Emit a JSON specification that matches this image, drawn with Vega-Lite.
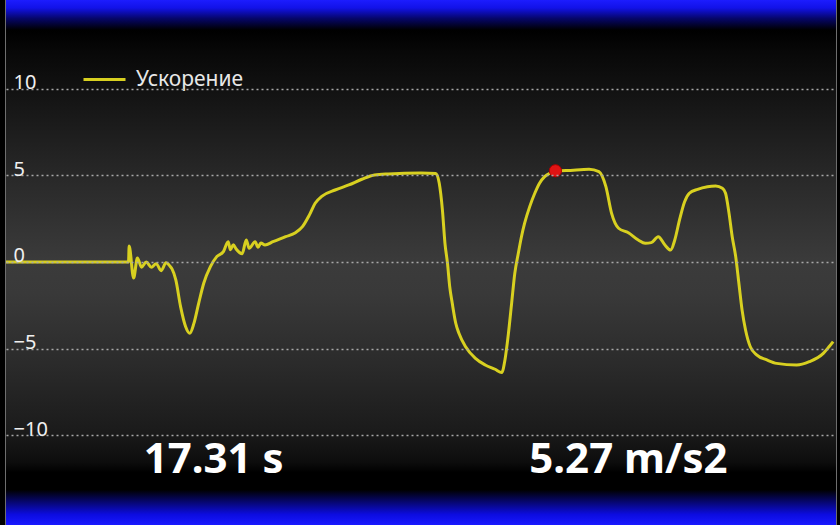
{
  "$schema": "https://vega.github.io/schema/vega-lite/v6.json",
  "width": 840,
  "height": 525,
  "autosize": {"type": "fit", "contains": "padding"},
  "padding": 0,
  "background": "#000000",
  "config": {
    "font": "Noto Sans",
    "view": {"stroke": "#6e6e6e", "strokeWidth": 2},
    "legend": {
      "orient": "none",
      "legendX": 76,
      "legendY": 57,
      "padding": 0,
      "symbolType": "stroke",
      "symbolSize": 1764,
      "symbolStrokeWidth": 3,
      "labelFontSize": 21,
      "labelColor": "#e8e8e8",
      "labelFont": "Noto Sans",
      "labelOffset": 9,
      "title": null
    }
  },
  "layer": [
    {
      "data": {"values": [{"bg": 1}]},
      "mark": {
        "type": "rect",
        "fill": {
          "gradient": "linear",
          "x1": 0, "y1": 0, "x2": 0, "y2": 1,
          "stops": [
            {"offset": 0.0, "color": "#1c1cff"},
            {"offset": 0.015, "color": "#1212e8"},
            {"offset": 0.035, "color": "#06066a"},
            {"offset": 0.057, "color": "#000000"},
            {"offset": 0.1, "color": "#080808"},
            {"offset": 0.2, "color": "#161616"},
            {"offset": 0.35, "color": "#2a2a2a"},
            {"offset": 0.5, "color": "#3b3b3b"},
            {"offset": 0.56, "color": "#393939"},
            {"offset": 0.7, "color": "#2a2a2a"},
            {"offset": 0.82, "color": "#1b1b1b"},
            {"offset": 0.88, "color": "#0d0d0d"},
            {"offset": 0.9, "color": "#000000"},
            {"offset": 0.933, "color": "#000000"},
            {"offset": 0.955, "color": "#06066a"},
            {"offset": 0.98, "color": "#0c0ce0"},
            {"offset": 1.0, "color": "#1818ff"}
          ]
        }
      },
      "encoding": {
        "y": {
          "datum": 15.14,
          "type": "quantitative",
          "scale": {"domain": [-15.2, 15.14], "nice": false, "zero": false},
          "title": null,
          "axis": {
            "values": [-10, -5, 0, 5, 10],
            "zindex": 1,
            "domain": false,
            "ticks": false,
            "grid": true,
            "gridColor": "#a8a8a8",
            "gridDash": [2, 3],
            "gridWidth": 1.5,
            "labelAlign": "left",
            "labelBaseline": "alphabetic",
            "labelPadding": -7,
            "labelDy": -2,
            "labelColor": "#f0f0f0",
            "labelFontSize": 20,
            "labelFont": "Noto Sans",
            "title": null
          }
        },
        "y2": {"datum": -15.2}
      }
    },
    {
      "data": {
        "values": [
          {"t": 0, "a": 0, "series": "Ускорение"},
          {"t": 3.86, "a": 0, "series": "Ускорение"},
          {"t": 3.88, "a": 0.92, "series": "Ускорение"},
          {"t": 4.02, "a": -0.93, "series": "Ускорение"},
          {"t": 4.14, "a": 0.23, "series": "Ускорение"},
          {"t": 4.27, "a": -0.3, "series": "Ускорение"},
          {"t": 4.42, "a": 0.0, "series": "Ускорение"},
          {"t": 4.58, "a": -0.3, "series": "Ускорение"},
          {"t": 4.73, "a": -0.1, "series": "Ускорение"},
          {"t": 4.89, "a": -0.5, "series": "Ускорение"},
          {"t": 5.04, "a": -0.05, "series": "Ускорение"},
          {"t": 5.17, "a": -0.25, "series": "Ускорение"},
          {"t": 5.23, "a": -0.4, "series": "Ускорение"},
          {"t": 5.35, "a": -1.04, "series": "Ускорение"},
          {"t": 5.5, "a": -2.58, "series": "Ускорение"},
          {"t": 5.66, "a": -3.74, "series": "Ускорение"},
          {"t": 5.79, "a": -4.12, "series": "Ускорение"},
          {"t": 5.92, "a": -3.55, "series": "Ускорение"},
          {"t": 6.07, "a": -2.39, "series": "Ускорение"},
          {"t": 6.23, "a": -1.23, "series": "Ускорение"},
          {"t": 6.44, "a": -0.27, "series": "Ускорение"},
          {"t": 6.64, "a": 0.31, "series": "Ускорение"},
          {"t": 6.85, "a": 0.6, "series": "Ускорение"},
          {"t": 7.0, "a": 1.17, "series": "Ускорение"},
          {"t": 7.07, "a": 0.7, "series": "Ускорение"},
          {"t": 7.16, "a": 1.0, "series": "Ускорение"},
          {"t": 7.25, "a": 0.75, "series": "Ускорение"},
          {"t": 7.44, "a": 0.48, "series": "Ускорение"},
          {"t": 7.57, "a": 1.27, "series": "Ускорение"},
          {"t": 7.66, "a": 0.8, "series": "Ускорение"},
          {"t": 7.85, "a": 1.17, "series": "Ускорение"},
          {"t": 7.94, "a": 0.85, "series": "Ускорение"},
          {"t": 8.03, "a": 1.1, "series": "Ускорение"},
          {"t": 8.16, "a": 0.98, "series": "Ускорение"},
          {"t": 8.41, "a": 1.17, "series": "Ускорение"},
          {"t": 8.81, "a": 1.46, "series": "Ускорение"},
          {"t": 9.12, "a": 1.69, "series": "Ускорение"},
          {"t": 9.34, "a": 2.04, "series": "Ускорение"},
          {"t": 9.56, "a": 2.72, "series": "Ускорение"},
          {"t": 9.74, "a": 3.39, "series": "Ускорение"},
          {"t": 9.96, "a": 3.81, "series": "Ускорение"},
          {"t": 10.37, "a": 4.16, "series": "Ускорение"},
          {"t": 10.8, "a": 4.45, "series": "Ускорение"},
          {"t": 11.21, "a": 4.78, "series": "Ускорение"},
          {"t": 11.61, "a": 5.03, "series": "Ускорение"},
          {"t": 12.05, "a": 5.09, "series": "Ускорение"},
          {"t": 13.08, "a": 5.14, "series": "Ускорение"},
          {"t": 13.54, "a": 5.12, "series": "Ускорение"},
          {"t": 13.65, "a": 4.55, "series": "Ускорение"},
          {"t": 13.75, "a": 3.0, "series": "Ускорение"},
          {"t": 13.83, "a": 1.08, "series": "Ускорение"},
          {"t": 13.91, "a": -0.08, "series": "Ускорение"},
          {"t": 13.98, "a": -1.43, "series": "Ускорение"},
          {"t": 14.06, "a": -2.39, "series": "Ускорение"},
          {"t": 14.17, "a": -3.54, "series": "Ускорение"},
          {"t": 14.27, "a": -4.12, "series": "Ускорение"},
          {"t": 14.48, "a": -4.9, "series": "Ускорение"},
          {"t": 14.79, "a": -5.57, "series": "Ускорение"},
          {"t": 15.1, "a": -5.95, "series": "Ускорение"},
          {"t": 15.41, "a": -6.2, "series": "Ускорение"},
          {"t": 15.62, "a": -6.39, "series": "Ускорение"},
          {"t": 15.72, "a": -5.66, "series": "Ускорение"},
          {"t": 15.83, "a": -4.12, "series": "Ускорение"},
          {"t": 15.93, "a": -2.39, "series": "Ускорение"},
          {"t": 16.03, "a": -0.66, "series": "Ускорение"},
          {"t": 16.14, "a": 0.49, "series": "Ускорение"},
          {"t": 16.24, "a": 1.46, "series": "Ускорение"},
          {"t": 16.34, "a": 2.24, "series": "Ускорение"},
          {"t": 16.5, "a": 3.2, "series": "Ускорение"},
          {"t": 16.66, "a": 3.97, "series": "Ускорение"},
          {"t": 16.81, "a": 4.55, "series": "Ускорение"},
          {"t": 16.97, "a": 4.93, "series": "Ускорение"},
          {"t": 17.18, "a": 5.16, "series": "Ускорение"},
          {"t": 17.31, "a": 5.27, "series": "Ускорение"},
          {"t": 17.65, "a": 5.28, "series": "Ускорение"},
          {"t": 18.37, "a": 5.36, "series": "Ускорение"},
          {"t": 18.68, "a": 5.22, "series": "Ускорение"},
          {"t": 18.9, "a": 4.35, "series": "Ускорение"},
          {"t": 19.08, "a": 2.81, "series": "Ускорение"},
          {"t": 19.3, "a": 1.95, "series": "Ускорение"},
          {"t": 19.61, "a": 1.69, "series": "Ускорение"},
          {"t": 19.92, "a": 1.27, "series": "Ускорение"},
          {"t": 20.14, "a": 1.08, "series": "Ускорение"},
          {"t": 20.33, "a": 1.12, "series": "Ускорение"},
          {"t": 20.55, "a": 1.46, "series": "Ускорение"},
          {"t": 20.76, "a": 0.98, "series": "Ускорение"},
          {"t": 20.94, "a": 0.69, "series": "Ускорение"},
          {"t": 21.07, "a": 1.27, "series": "Ускорение"},
          {"t": 21.22, "a": 2.43, "series": "Ускорение"},
          {"t": 21.38, "a": 3.48, "series": "Ускорение"},
          {"t": 21.53, "a": 3.97, "series": "Ускорение"},
          {"t": 21.79, "a": 4.2, "series": "Ускорение"},
          {"t": 22.1, "a": 4.35, "series": "Ускорение"},
          {"t": 22.36, "a": 4.39, "series": "Ускорение"},
          {"t": 22.57, "a": 4.26, "series": "Ускорение"},
          {"t": 22.67, "a": 3.97, "series": "Ускорение"},
          {"t": 22.78, "a": 2.81, "series": "Ускорение"},
          {"t": 22.88, "a": 1.46, "series": "Ускорение"},
          {"t": 22.99, "a": 0.31, "series": "Ускорение"},
          {"t": 23.09, "a": -1.23, "series": "Ускорение"},
          {"t": 23.19, "a": -2.77, "series": "Ускорение"},
          {"t": 23.3, "a": -3.93, "series": "Ускорение"},
          {"t": 23.45, "a": -4.9, "series": "Ускорение"},
          {"t": 23.66, "a": -5.38, "series": "Ускорение"},
          {"t": 23.97, "a": -5.66, "series": "Ускорение"},
          {"t": 24.28, "a": -5.86, "series": "Ускорение"},
          {"t": 24.91, "a": -5.95, "series": "Ускорение"},
          {"t": 25.31, "a": -5.76, "series": "Ускорение"},
          {"t": 25.75, "a": -5.28, "series": "Ускорение"},
          {"t": 25.93, "a": -4.9, "series": "Ускорение"},
          {"t": 26.06, "a": -4.6, "series": "Ускорение"}
        ]
      },
      "mark": {"type": "line", "strokeWidth": 3, "interpolate": "monotone"},
      "encoding": {
        "x": {"field": "t", "type": "quantitative", "scale": {"domain": [0, 26.15], "nice": false, "zero": false}, "title": null, "axis": null},
        "y": {"field": "a", "type": "quantitative", "title": null},
        "color": {"field": "series", "type": "nominal", "scale": {"range": ["#d8d020"]}, "legend": {"title": null}}
      }
    },
    {
      "data": {"values": [{"t": 17.31, "a": 5.27}]},
      "mark": {"type": "point", "filled": true, "size": 150, "color": "#e01414", "stroke": "#b00000", "strokeWidth": 1, "opacity": 1},
      "encoding": {
        "x": {"field": "t", "type": "quantitative", "title": null, "axis": null},
        "y": {"field": "a", "type": "quantitative", "title": null}
      }
    },
    {
      "data": {"values": [{"label": "17.31 s"}]},
      "mark": {"type": "text", "font": "Noto Sans", "fontWeight": "bold", "fontSize": 42, "color": "#ffffff", "align": "center", "baseline": "alphabetic"},
      "encoding": {
        "x": {"datum": 6.54, "type": "quantitative", "axis": null},
        "y": {"datum": -12.2, "type": "quantitative"},
        "text": {"field": "label"}
      }
    },
    {
      "data": {"values": [{"label": "5.27 m/s2"}]},
      "mark": {"type": "text", "font": "Noto Sans", "fontWeight": "bold", "fontSize": 42, "color": "#ffffff", "align": "center", "baseline": "alphabetic"},
      "encoding": {
        "x": {"datum": 19.61, "type": "quantitative", "axis": null},
        "y": {"datum": -12.2, "type": "quantitative"},
        "text": {"field": "label"}
      }
    }
  ]
}
